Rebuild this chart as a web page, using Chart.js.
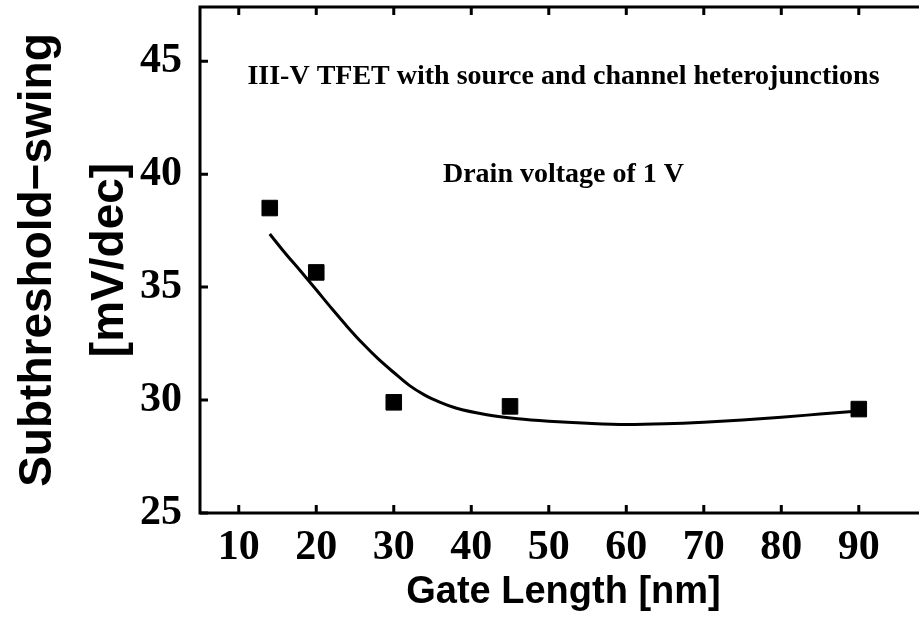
<!DOCTYPE html>
<html>
<head>
<meta charset="utf-8">
<script src="https://cdn.jsdelivr.net/npm/chart.js@4.4.0/dist/chart.umd.min.js"></script>
<style>
  html, body { margin: 0; padding: 0; background: #fff; overflow: hidden; }
  #ssChart { display: block; }
</style>
</head>
<body>
<canvas id="ssChart" width="927" height="619"></canvas>
<script>
// measured points
const gateLength = [14, 20, 30, 45, 90];
const swing = [38.5, 35.65, 29.9, 29.72, 29.6];

// fitted curve
const fitX = [14, 16, 18, 20, 22, 24, 26, 28, 30, 32, 34, 36, 38, 42, 46, 50, 55, 60, 65, 70, 75, 80, 85, 90];
const fitY = [37.35, 36.5, 35.7, 34.88, 34.05, 33.25, 32.5, 31.82, 31.22, 30.65, 30.22, 29.9, 29.65, 29.35, 29.17, 29.06, 28.97, 28.92, 28.95, 29.02, 29.12, 29.24, 29.38, 29.52];

const xTicks = [10, 20, 30, 40, 50, 60, 70, 80, 90];
const yTicks = [25, 30, 35, 40, 45];
const notes = ['III-V TFET with source and channel heterojunctions', 'Drain voltage of 1 V'];

const tickFont = { family: '"Liberation Serif", "DejaVu Serif", serif', size: 42, weight: 'bold' };
const titleFont = { family: '"Liberation Sans", Arial, sans-serif', weight: 'bold' };

// box frame + inward ticks + the two text notes
const framePlugin = {
  id: 'frame',
  afterDatasetsDraw(chart) {
    const { ctx, chartArea: a, scales: { x, y } } = chart;
    ctx.save();
    ctx.strokeStyle = '#000';
    ctx.lineWidth = 3;
    ctx.strokeRect(a.left, a.top, a.right - a.left, a.bottom - a.top);
    ctx.beginPath();
    xTicks.forEach(v => {
      const px = x.getPixelForValue(v);
      ctx.moveTo(px, a.bottom); ctx.lineTo(px, a.bottom - 8);
      ctx.moveTo(px, a.top); ctx.lineTo(px, a.top + 8);
    });
    yTicks.forEach(v => {
      const py = y.getPixelForValue(v);
      ctx.moveTo(a.left, py); ctx.lineTo(a.left + 8, py);
      ctx.moveTo(a.right, py); ctx.lineTo(a.right - 8, py);
    });
    ctx.stroke();

    ctx.fillStyle = '#000';
    ctx.font = 'bold 28px "Liberation Serif", serif';
    ctx.textAlign = 'center';
    ctx.textBaseline = 'middle';
    const cx = (a.left + a.right) / 2;
    ctx.fillText(notes[0], cx, a.top + 70);
    ctx.fillText(notes[1], cx, a.top + 168);
    ctx.restore();
  }
};

const ctx = document.getElementById('ssChart').getContext('2d');
new Chart(ctx, {
  type: 'scatter',
  data: {
    datasets: [
      {
        label: 'fit',
        type: 'line',
        data: fitX.map((v, i) => ({ x: v, y: fitY[i] })),
        borderColor: '#000',
        borderWidth: 3,
        pointRadius: 0,
        cubicInterpolationMode: 'monotone',
        fill: false
      },
      {
        label: 'Subthreshold-swing',
        data: gateLength.map((v, i) => ({ x: v, y: swing[i] })),
        pointStyle: 'rect',
        pointRadius: 11,
        backgroundColor: '#000',
        borderColor: '#000',
        borderWidth: 1
      }
    ]
  },
  options: {
    responsive: false,
    animation: false,
    layout: { autoPadding: false, padding: { top: 7, left: 0, right: 0, bottom: 0 } },
    plugins: {
      legend: { display: false },
      tooltip: { enabled: false }
    },
    scales: {
      x: {
        type: 'linear',
        min: 5,
        max: 98.8,
        afterBuildTicks: s => { s.ticks = xTicks.map(v => ({ value: v })); },
        afterFit: s => { s.height = 106; s.paddingLeft = 0; s.paddingRight = 0; },
        grid: { display: false, drawTicks: false },
        border: { display: false },
        ticks: { color: '#000', font: tickFont, padding: 10, maxRotation: 0 },
        title: {
          display: true,
          text: 'Gate Length [nm]',
          color: '#000',
          font: { ...titleFont, size: 38 },
          padding: { top: 0, bottom: 4 }
        }
      },
      y: {
        min: 25,
        max: 47.4,
        afterBuildTicks: s => { s.ticks = yTicks.map(v => ({ value: v })); },
        afterFit: s => { s.width = 200; s.paddingTop = 0; s.paddingBottom = 0; },
        grid: { display: false, drawTicks: false },
        border: { display: false },
        ticks: { color: '#000', font: tickFont, padding: 18 },
        title: {
          display: true,
          text: ['Subthreshold\u2212swing', '[mV/dec]'],
          color: '#000',
          font: { ...titleFont, size: 46, lineHeight: 1.55 },
          padding: { top: 3, bottom: 0 }
        }
      }
    }
  },
  plugins: [framePlugin]
});
</script>
</body>
</html>
